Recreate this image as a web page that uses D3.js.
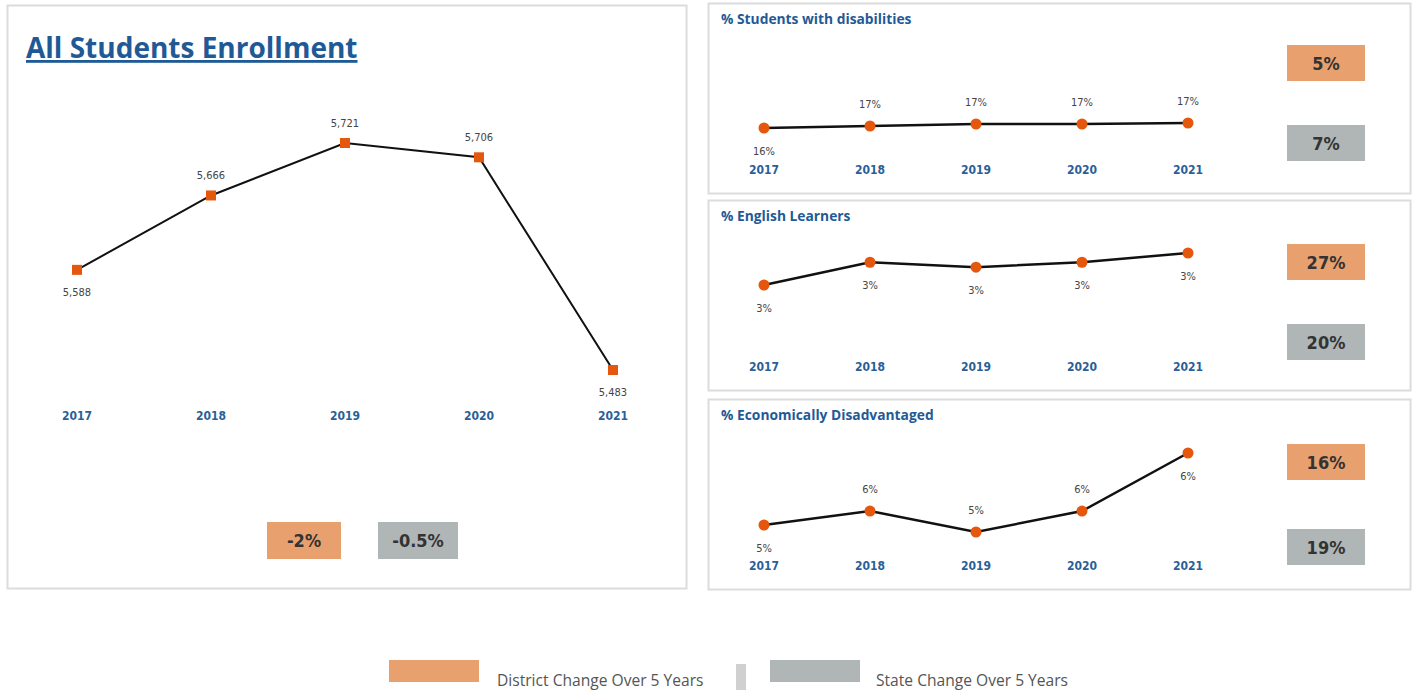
<!DOCTYPE html>
<html>
<head>
<meta charset="utf-8">
<script src="https://d3js.org/d3.v7.min.js"></script>
<style>
    body { margin: 0; background: #fff; font-family: "Open Sans", sans-serif; }
    svg { display: block; }
    .yr { font-family: "DejaVu Sans Condensed", "Roboto", sans-serif; font-weight: bold; font-size: 12px; fill: #2a5f98; }
    .val { font-family: "DejaVu Sans Condensed", "Roboto", sans-serif; font-size: 11px; fill: #444; }
    .box-txt { font-family: "DejaVu Sans Condensed", "Roboto", sans-serif; font-weight: bold; font-size: 18px; fill: #333; }
</style>
</head>
<body>
<div id="chart"></div>
<script>
// data
const years = ["2017", "2018", "2019", "2020", "2021"];
const enrollment = [5588, 5666, 5721, 5706, 5483];
const enrollLabelPos = ["below", "above", "above", "above", "below"];
const enrollDistrict = "-2%";
const enrollState = "-0.5%";

const panelTitles = ["% Students with disabilities", "% English Learners", "% Economically Disadvantaged"];
const disabilities = [16.4, 16.6, 16.8, 16.8, 16.9];
const englishLearners = [2.75, 3.07, 3.0, 3.07, 3.2];
const econDisadv = [5.4, 5.6, 5.3, 5.6, 6.43];
const panelLabelPos = [
    ["below", "above", "above", "above", "above"],
    ["below", "below", "below", "below", "below"],
    ["below", "above", "above", "above", "below"]
];
const districtChange = ["5%", "27%", "16%"];
const stateChange = ["7%", "20%", "19%"];
const legendLabels = ["District Change Over 5 Years", "State Change Over 5 Years"];

const orange = "#e9a06f", grey = "#b0b5b6", marker = "#e4570c", blue = "#1f5a96";

const svg = d3.select("#chart").append("svg")
    .attr("width", 1416).attr("height", 690);

// ---- left panel: all students enrollment
svg.append("rect").attr("x", 7.5).attr("y", 5.5).attr("width", 679).attr("height", 583)
    .attr("fill", "#fff").attr("stroke", "#dcdcdc").attr("stroke-width", 2);

svg.append("text").attr("x", 26).attr("y", 58)
    .attr("font-family", "Open Sans").attr("font-weight", "bold").attr("font-size", 28)
    .attr("fill", blue).attr("text-decoration", "underline")
    .text("All Students Enrollment");

const xMain = d3.scalePoint().domain(years).range([77, 613]);
const yMain = d3.scaleLinear().domain(d3.extent(enrollment)).range([370, 143]);

const mainData = years.map((y, i) => ({year: y, v: enrollment[i], pos: enrollLabelPos[i]}));

svg.append("path").datum(mainData)
    .attr("d", d3.line().x(d => xMain(d.year)).y(d => yMain(d.v)))
    .attr("fill", "none").attr("stroke", "#111").attr("stroke-width", 2);

svg.selectAll(".sq").data(mainData).join("rect")
    .attr("x", d => xMain(d.year) - 5).attr("y", d => yMain(d.v) - 5)
    .attr("width", 10).attr("height", 10).attr("fill", marker);

svg.selectAll(".mval").data(mainData).join("text")
    .attr("class", "val").attr("text-anchor", "middle")
    .attr("x", d => xMain(d.year))
    .attr("y", d => yMain(d.v) + (d.pos === "above" ? -16 : 26))
    .text(d => d3.format(",")(d.v));

svg.selectAll(".myr").data(years).join("text")
    .attr("class", "yr").attr("text-anchor", "middle")
    .attr("x", d => xMain(d)).attr("y", 420).text(d => d);

[[enrollDistrict, orange, 267, 74], [enrollState, grey, 378, 80]].forEach(([t, c, x, w]) => {
    svg.append("rect").attr("x", x).attr("y", 522).attr("width", w).attr("height", 37).attr("fill", c);
    svg.append("text").attr("class", "box-txt").attr("text-anchor", "middle")
        .attr("x", x + w / 2).attr("y", 547).text(t);
});

// ---- right panels
const panelSeries = [disabilities, englishLearners, econDisadv];
const panelTops = [3, 200, 399];
// pixel offsets of min/max value within each panel
const yRanges = [[128, 123], [285, 253], [532, 453]];
const xSmall = d3.scalePoint().domain(years).range([764, 1188]);

panelSeries.forEach((vals, p) => {
    const top = panelTops[p];
    const g = svg.append("g");
    g.append("rect").attr("x", 708.5).attr("y", top + 0.5).attr("width", 702).attr("height", 190)
        .attr("fill", "#fff").attr("stroke", "#dcdcdc").attr("stroke-width", 2);
    g.append("text").attr("x", 721).attr("y", top + 21)
        .attr("font-family", "Open Sans").attr("font-weight", "bold").attr("font-size", 13.8)
        .attr("fill", blue).text(panelTitles[p]);

    const y = d3.scaleLinear().domain(d3.extent(vals)).range(yRanges[p]);
    const data = years.map((yr, i) => ({year: yr, v: vals[i], pos: panelLabelPos[p][i]}));

    g.append("path").datum(data)
        .attr("d", d3.line().x(d => xSmall(d.year)).y(d => y(d.v)))
        .attr("fill", "none").attr("stroke", "#111").attr("stroke-width", 2.5);
    g.selectAll("circle").data(data).join("circle")
        .attr("cx", d => xSmall(d.year)).attr("cy", d => y(d.v)).attr("r", 5.5)
        .attr("fill", marker);
    g.selectAll(".val").data(data).join("text")
        .attr("class", "val").attr("text-anchor", "middle")
        .attr("x", d => xSmall(d.year))
        .attr("y", d => y(d.v) + (d.pos === "above" ? -18 : 27))
        .text(d => Math.round(d.v) + "%");
    g.selectAll(".yr").data(years).join("text")
        .attr("class", "yr").attr("text-anchor", "middle")
        .attr("x", d => xSmall(d)).attr("y", top + 171).text(d => d);

    const boxY = [[45, 125], [244, 324], [444, 529]][p];
    [[districtChange[p], orange, boxY[0]], [stateChange[p], grey, boxY[1]]].forEach(([t, c, by]) => {
        g.append("rect").attr("x", 1287).attr("y", by).attr("width", 78).attr("height", 36).attr("fill", c);
        g.append("text").attr("class", "box-txt").attr("text-anchor", "middle")
            .attr("x", 1326).attr("y", by + 25).text(t);
    });
});

// ---- legend
svg.append("rect").attr("x", 389).attr("y", 660).attr("width", 90).attr("height", 22).attr("fill", orange);
svg.append("text").attr("x", 497).attr("y", 686).attr("font-size", 15.6).attr("fill", "#555").text(legendLabels[0]);
svg.append("rect").attr("x", 736).attr("y", 664).attr("width", 10).attr("height", 30).attr("fill", "#d0d0d0");
svg.append("rect").attr("x", 770).attr("y", 660).attr("width", 90).attr("height", 22).attr("fill", grey);
svg.append("text").attr("x", 876).attr("y", 686).attr("font-size", 15.6).attr("fill", "#555").text(legendLabels[1]);
</script>
</body>
</html>
